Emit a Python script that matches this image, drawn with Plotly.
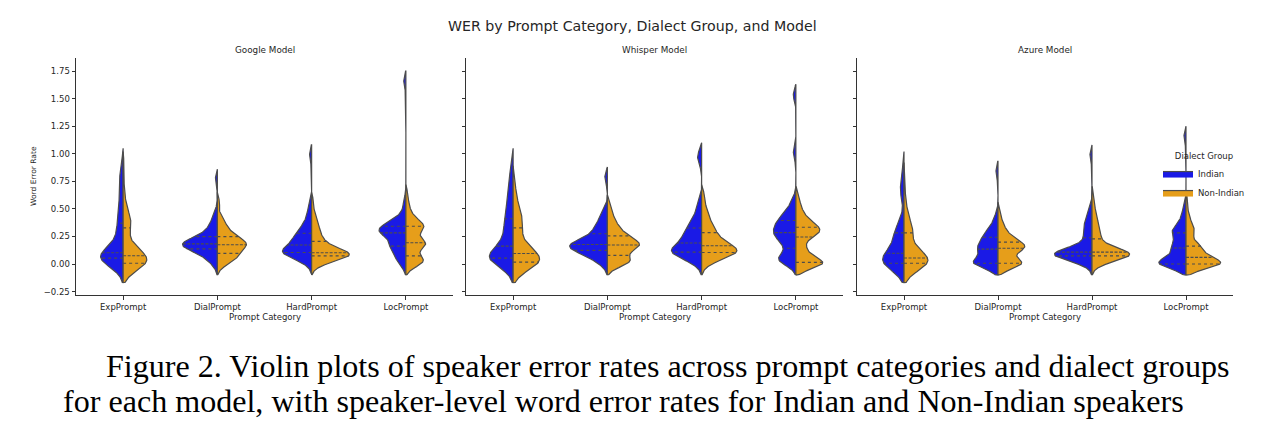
import numpy as np
import plotly.graph_objects as go

# ---------------- data (speaker-level WER samples) ----------------
MODELS = ["Google Model", "Whisper Model", "Azure Model"]
CATEGORIES = ["ExpPrompt", "DialPrompt", "HardPrompt", "LocPrompt"]
GROUPS = ["Indian", "Non-Indian"]
Y_TICKS = [-0.25, 0.0, 0.25, 0.5, 0.75, 1.0, 1.25, 1.5, 1.75]
Y_TICK_TEXT = ["\u22120.25", "0.00", "0.25", "0.50", "0.75", "1.00", "1.25", "1.50", "1.75"]

google_indian_exp = [0.0, 0.02, 0.03, 0.035, 0.04, 0.045, 0.05, 0.05, 0.055, 0.06, 0.06, 0.065, 0.07, 0.075, 0.085, 0.095,
                     0.11, 0.13, 0.16, 0.20, 0.24, 0.28, 0.32, 0.36, 0.40, 0.46, 0.52, 0.60, 0.66, 0.72, 0.80, 0.88]
google_nonindian_exp = [0.0, 0.0, 0.0, 0.0, 0.0, 0.0, 0.0, 0.0, 0.01, 0.02, 0.03, 0.04, 0.05, 0.055, 0.06, 0.07,
                        0.08, 0.09, 0.11, 0.13, 0.15, 0.18, 0.22, 0.32, 0.35, 0.36, 0.38, 0.40, 0.44, 0.50, 0.62, 0.85]
google_indian_dial = [0.0, 0.03, 0.06, 0.08, 0.10, 0.11, 0.12, 0.13, 0.14, 0.15, 0.16, 0.165, 0.17, 0.175, 0.18, 0.18,
                      0.185, 0.19, 0.195, 0.20, 0.21, 0.22, 0.235, 0.245, 0.26, 0.28, 0.30, 0.33, 0.36, 0.40, 0.46, 0.76]
google_nonindian_dial = [0.0, 0.025, 0.035, 0.045, 0.05, 0.06, 0.07, 0.085, 0.10, 0.125, 0.14, 0.15, 0.16, 0.165, 0.17, 0.175,
                         0.175, 0.18, 0.19, 0.20, 0.21, 0.22, 0.235, 0.245, 0.26, 0.28, 0.30, 0.32, 0.35, 0.38, 0.42, 0.55]
google_indian_hard = [0.01, 0.04, 0.055, 0.07, 0.08, 0.09, 0.095, 0.10, 0.105, 0.11, 0.115, 0.12, 0.13, 0.14, 0.15, 0.165,
                      0.18, 0.19, 0.20, 0.215, 0.23, 0.245, 0.26, 0.275, 0.29, 0.31, 0.33, 0.36, 0.40, 0.45, 0.52, 0.98]
google_nonindian_hard = [0.0, 0.02, 0.035, 0.045, 0.055, 0.06, 0.065, 0.07, 0.075, 0.08, 0.085, 0.09, 0.09, 0.095, 0.10, 0.10,
                         0.105, 0.11, 0.12, 0.13, 0.15, 0.17, 0.19, 0.20, 0.22, 0.25, 0.28, 0.31, 0.34, 0.38, 0.44, 0.55]
google_indian_loc = [0.0, 0.02, 0.04, 0.07, 0.10, 0.13, 0.145, 0.155, 0.165, 0.175, 0.19, 0.22, 0.24, 0.26, 0.27, 0.28,
                     0.285, 0.29, 0.30, 0.31, 0.315, 0.32, 0.33, 0.34, 0.35, 0.36, 0.375, 0.39, 0.42, 0.46, 0.56, 1.65]
google_nonindian_loc = [0.0, 0.0, 0.01, 0.02, 0.03, 0.04, 0.05, 0.055, 0.08, 0.15, 0.16, 0.17, 0.175, 0.18, 0.185, 0.19,
                        0.195, 0.21, 0.26, 0.29, 0.31, 0.32, 0.33, 0.34, 0.35, 0.36, 0.37, 0.39, 0.42, 0.46, 0.52, 0.62]

whisper_indian_exp = [0.0, 0.02, 0.03, 0.035, 0.04, 0.045, 0.05, 0.05, 0.055, 0.06, 0.065, 0.07, 0.08, 0.095, 0.12, 0.15,
                      0.175, 0.20, 0.23, 0.26, 0.30, 0.34, 0.38, 0.40, 0.44, 0.48, 0.53, 0.58, 0.64, 0.70, 0.78, 0.88]
whisper_nonindian_exp = [0.0, 0.0, 0.0, 0.0, 0.0, 0.0, 0.005, 0.01, 0.02, 0.03, 0.04, 0.05, 0.06, 0.07, 0.08, 0.09,
                         0.10, 0.12, 0.14, 0.16, 0.19, 0.23, 0.28, 0.32, 0.35, 0.38, 0.41, 0.44, 0.48, 0.52, 0.60, 0.72]
whisper_indian_dial = [0.0, 0.03, 0.05, 0.07, 0.09, 0.10, 0.11, 0.12, 0.125, 0.135, 0.145, 0.155, 0.16, 0.17, 0.175, 0.175,
                       0.18, 0.185, 0.19, 0.20, 0.215, 0.23, 0.25, 0.27, 0.29, 0.31, 0.33, 0.36, 0.39, 0.43, 0.48, 0.78]
whisper_nonindian_dial = [0.0, 0.01, 0.015, 0.02, 0.025, 0.03, 0.035, 0.045, 0.09, 0.11, 0.13, 0.14, 0.15, 0.16, 0.165, 0.17,
                          0.175, 0.18, 0.19, 0.20, 0.21, 0.22, 0.23, 0.25, 0.27, 0.29, 0.31, 0.33, 0.36, 0.40, 0.45, 0.52]
whisper_indian_hard = [0.0, 0.03, 0.05, 0.07, 0.08, 0.09, 0.10, 0.10, 0.11, 0.12, 0.13, 0.14, 0.15, 0.16, 0.17, 0.18,
                       0.20, 0.22, 0.235, 0.25, 0.265, 0.28, 0.30, 0.32, 0.345, 0.37, 0.40, 0.44, 0.49, 0.56, 0.93, 1.0]
whisper_nonindian_hard = [0.0, 0.03, 0.05, 0.065, 0.075, 0.085, 0.09, 0.10, 0.105, 0.11, 0.12, 0.125, 0.13, 0.14, 0.15, 0.16,
                          0.17, 0.18, 0.19, 0.205, 0.22, 0.24, 0.26, 0.28, 0.30, 0.32, 0.35, 0.38, 0.42, 0.46, 0.52, 0.62]
whisper_indian_loc = [0.0, 0.02, 0.03, 0.04, 0.05, 0.06, 0.08, 0.12, 0.15, 0.18, 0.20, 0.22, 0.24, 0.25, 0.265, 0.28,
                      0.29, 0.30, 0.32, 0.33, 0.35, 0.36, 0.38, 0.39, 0.41, 0.43, 0.45, 0.48, 0.52, 0.58, 1.0, 1.53]
whisper_nonindian_loc = [0.0, 0.0, 0.0, 0.0, 0.0, 0.0, 0.0, 0.0, 0.02, 0.04, 0.07, 0.10, 0.12, 0.15, 0.18, 0.24,
                         0.25, 0.27, 0.28, 0.29, 0.30, 0.31, 0.32, 0.33, 0.345, 0.36, 0.38, 0.40, 0.43, 0.47, 0.52, 0.60]

azure_indian_exp = [0.0, 0.0, 0.0, 0.0, 0.0, 0.0, 0.0, 0.0, 0.01, 0.02, 0.03, 0.04, 0.06, 0.07, 0.08, 0.09,
                    0.105, 0.12, 0.14, 0.17, 0.20, 0.24, 0.26, 0.28, 0.29, 0.31, 0.34, 0.40, 0.63, 0.67, 0.71, 0.85]
azure_nonindian_exp = [0.0, 0.0, 0.0, 0.0, 0.0, 0.0, 0.0, 0.0, 0.01, 0.02, 0.025, 0.03, 0.04, 0.045, 0.05, 0.05,
                       0.06, 0.08, 0.10, 0.12, 0.14, 0.16, 0.25, 0.28, 0.29, 0.30, 0.32, 0.34, 0.40, 0.46, 0.55, 0.75]
azure_indian_dial = [0.0, 0.0, 0.0, 0.0, 0.0, 0.0, 0.0, 0.0, 0.01, 0.03, 0.05, 0.07, 0.09, 0.11, 0.12, 0.13,
                     0.14, 0.15, 0.16, 0.17, 0.18, 0.20, 0.22, 0.24, 0.25, 0.26, 0.28, 0.30, 0.33, 0.37, 0.43, 0.83]
azure_nonindian_dial = [0.0, 0.0, 0.0, 0.0, 0.0, 0.0, 0.0, 0.0, 0.01, 0.02, 0.03, 0.10, 0.12, 0.13, 0.135, 0.14,
                        0.145, 0.15, 0.155, 0.16, 0.17, 0.18, 0.19, 0.195, 0.21, 0.23, 0.25, 0.27, 0.30, 0.33, 0.38, 0.46]
azure_indian_hard = [0.0, 0.03, 0.04, 0.05, 0.055, 0.06, 0.065, 0.07, 0.075, 0.08, 0.085, 0.09, 0.095, 0.10, 0.10, 0.105,
                     0.11, 0.115, 0.12, 0.13, 0.14, 0.16, 0.19, 0.23, 0.26, 0.29, 0.32, 0.35, 0.38, 0.42, 0.50, 0.98]
azure_nonindian_hard = [0.0, 0.03, 0.04, 0.05, 0.055, 0.06, 0.065, 0.07, 0.075, 0.08, 0.085, 0.09, 0.09, 0.095, 0.10, 0.105,
                        0.11, 0.115, 0.12, 0.13, 0.14, 0.16, 0.19, 0.22, 0.25, 0.28, 0.31, 0.34, 0.38, 0.43, 0.50, 0.60]
azure_indian_loc = [0.0, 0.0, 0.0, 0.0, 0.0, 0.0, 0.0, 0.0, 0.0, 0.01, 0.02, 0.04, 0.06, 0.08, 0.11, 0.14,
                    0.15, 0.15, 0.16, 0.17, 0.22, 0.25, 0.27, 0.28, 0.29, 0.30, 0.32, 0.35, 0.38, 0.43, 0.50, 1.15]
azure_nonindian_loc = [0.0, 0.0, 0.0, 0.0, 0.0, 0.0, 0.0, 0.0, 0.0, 0.0, 0.0, 0.005, 0.01, 0.02, 0.03, 0.05,
                       0.07, 0.09, 0.11, 0.13, 0.14, 0.15, 0.155, 0.16, 0.17, 0.26, 0.28, 0.30, 0.33, 0.37, 0.43, 0.55]

DATA = {
    "Google Model": {
        "Indian": [google_indian_exp, google_indian_dial, google_indian_hard, google_indian_loc],
        "Non-Indian": [google_nonindian_exp, google_nonindian_dial, google_nonindian_hard, google_nonindian_loc],
    },
    "Whisper Model": {
        "Indian": [whisper_indian_exp, whisper_indian_dial, whisper_indian_hard, whisper_indian_loc],
        "Non-Indian": [whisper_nonindian_exp, whisper_nonindian_dial, whisper_nonindian_hard, whisper_nonindian_loc],
    },
    "Azure Model": {
        "Indian": [azure_indian_exp, azure_indian_dial, azure_indian_hard, azure_indian_loc],
        "Non-Indian": [azure_nonindian_exp, azure_nonindian_dial, azure_nonindian_hard, azure_nonindian_loc],
    },
}

# ---------------- styling / KDE settings ----------------
COLORS = {"Indian": "#1a1ae6", "Non-Indian": "#e69e1a"}
EDGE = "#4c4c4c"
TEXT = "#262626"
FONT = "DejaVu Sans"
BANDWIDTH = {"ExpPrompt": 0.085, "DialPrompt": 0.05, "HardPrompt": 0.05, "LocPrompt": 0.05}
CUT = 2.0
HALF_WIDTH = 0.4


def kde(values, bw):
    x = np.asarray(values, dtype=float)
    grid = np.linspace(x.min() - CUT * bw, x.max() + CUT * bw, 300)
    z = (grid[:, None] - x[None, :]) / bw
    dens = np.exp(-0.5 * z ** 2).sum(axis=1) / (x.size * bw * np.sqrt(2 * np.pi))
    return grid, dens


fig = go.Figure()
axis_ids = ["", "2", "3"]

for m_idx, model in enumerate(MODELS):
    xa = "x" + axis_ids[m_idx]
    ya = "y" + axis_ids[m_idx]
    kdes = {g: [kde(v, BANDWIDTH[CATEGORIES[i]]) for i, v in enumerate(DATA[model][g])] for g in GROUPS}
    dmax = max(d.max() for g in GROUPS for (_, d) in kdes[g])
    for g_idx, group in enumerate(GROUPS):
        sign = -1 if group == "Indian" else 1
        q_x, q_y, m_x, m_y = [], [], [], []
        for c_idx, cat in enumerate(CATEGORIES):
            grid, dens = kdes[group][c_idx]
            w = HALF_WIDTH * dens / dmax
            px = np.concatenate([[c_idx], c_idx + sign * w, [c_idx], [c_idx]])
            py = np.concatenate([[grid[0]], grid, [grid[-1]], [grid[0]]])
            fig.add_trace(go.Scatter(
                x=px, y=py, xaxis=xa, yaxis=ya, mode="lines", fill="toself",
                fillcolor=COLORS[group], line=dict(color=EDGE, width=1.2),
                name=group, legendgroup=group,
                showlegend=(m_idx == 0 and c_idx == 0), hoverinfo="skip"))
            vals = DATA[model][group][c_idx]
            for q in (25, 50, 75):
                yq = float(np.percentile(vals, q))
                wq = HALF_WIDTH * float(np.interp(yq, grid, dens)) / dmax
                if q == 50:
                    m_x += [c_idx, c_idx + sign * wq, None]
                    m_y += [yq, yq, None]
                else:
                    q_x += [c_idx, c_idx + sign * wq, None]
                    q_y += [yq, yq, None]
        fig.add_trace(go.Scatter(x=q_x, y=q_y, xaxis=xa, yaxis=ya, mode="lines",
                                 line=dict(color=EDGE, width=1.1, dash="dot"),
                                 showlegend=False, hoverinfo="skip"))
        fig.add_trace(go.Scatter(x=m_x, y=m_y, xaxis=xa, yaxis=ya, mode="lines",
                                 line=dict(color=EDGE, width=1.1, dash="3px,1.5px"),
                                 showlegend=False, hoverinfo="skip"))

# ---------------- layout ----------------
L, R, T, B = 76, 39, 58, 141
W, H = 1272, 436
PW = W - L - R
PH = H - T - B
domains = [[0.0, 377 / PW], [390 / PW, 767 / PW], [781 / PW, 1.0]]


def py_(y_px):
    return (H - B - y_px) / PH


def px_(x_px):
    return (x_px - L) / PW


axis_common = dict(
    showline=True, linecolor="#333333", linewidth=1, ticks="outside", ticklen=3.5,
    tickwidth=1, tickcolor="#333333", showgrid=False, zeroline=False,
    tickfont=dict(family=FONT, size=8.5, color=TEXT),
)
layout = dict(
    width=W, height=H, margin=dict(l=L, r=R, t=T, b=B, pad=0),
    paper_bgcolor="white", plot_bgcolor="white",
    showlegend=True,
    legend=dict(
        title=dict(text="Dialect Group", font=dict(family=FONT, size=8.5, color=TEXT), side="top center"),
        font=dict(family=FONT, size=8.5, color=TEXT),
        x=px_(1158), y=py_(148), xanchor="left", yanchor="top",
        bgcolor="rgba(255,255,255,0)", itemwidth=30, tracegroupgap=0,
    ),
)
for i, aid in enumerate(axis_ids):
    layout["xaxis" + aid] = dict(axis_common, domain=domains[i], range=[-0.5, 3.5],
                                 tickmode="array", tickvals=list(range(len(CATEGORIES))),
                                 ticktext=CATEGORIES, anchor="y" + aid, fixedrange=True)
    ya = dict(axis_common, domain=[0, 1], range=[-0.281, 1.868], tickmode="array",
              tickvals=Y_TICKS, ticktext=Y_TICK_TEXT, anchor="x" + aid, fixedrange=True)
    if i > 0:
        ya["showticklabels"] = False
        ya["matches"] = "y"
    layout["yaxis" + aid] = ya
fig.update_layout(**layout)

ann = []
ann.append(dict(text="WER by Prompt Category, Dialect Group, and Model", x=px_(632), y=py_(26),
                xref="paper", yref="paper", showarrow=False, xanchor="center", yanchor="middle",
                font=dict(family=FONT, size=14.2, color=TEXT)))
for i, model in enumerate(MODELS):
    ann.append(dict(text=model, x=(domains[i][0] + domains[i][1]) / 2, y=py_(50),
                    xref="paper", yref="paper", showarrow=False, xanchor="center", yanchor="middle",
                    font=dict(family=FONT, size=8.8, color=TEXT)))
    ann.append(dict(text="Prompt Category", x=(domains[i][0] + domains[i][1]) / 2, y=py_(317),
                    xref="paper", yref="paper", showarrow=False, xanchor="center", yanchor="middle",
                    font=dict(family=FONT, size=8.5, color=TEXT)))
ann.append(dict(text="Word Error Rate", x=px_(33), y=py_(176), textangle=-90,
                xref="paper", yref="paper", showarrow=False, xanchor="center", yanchor="middle",
                font=dict(family=FONT, size=7.5, color=TEXT)))
ann.append(dict(text="Figure 2. Violin plots of speaker error rates across prompt categories and dialect groups",
                x=px_(104), y=py_(366), xref="paper", yref="paper", showarrow=False,
                xanchor="left", yanchor="middle",
                font=dict(family="Liberation Serif", size=32.1, color="#000000")))
ann.append(dict(text="for each model, with speaker-level word error rates for Indian and Non-Indian speakers",
                x=px_(61), y=py_(401), xref="paper", yref="paper", showarrow=False,
                xanchor="left", yanchor="middle",
                font=dict(family="Liberation Serif", size=32.1, color="#000000")))
fig.update_layout(annotations=ann)

fig.write_html("out.html")
